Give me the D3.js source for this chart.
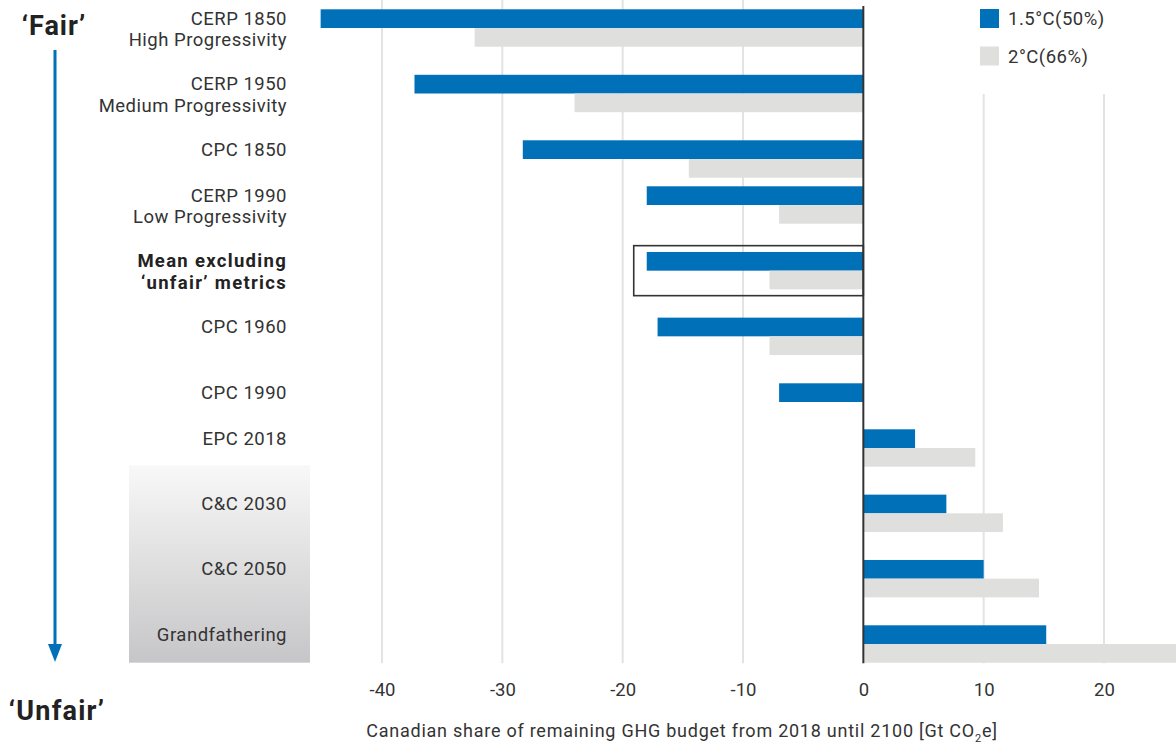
<!DOCTYPE html>
<html>
<head>
<meta charset="utf-8">
<script src="https://cdn.jsdelivr.net/npm/d3@7"></script>
<style>
  html, body { margin: 0; padding: 0; background: #fff; }
  svg { display: block; font-family: Roboto, "Noto Sans", sans-serif; }
</style>
</head>
<body>
<svg id="chart" width="1176" height="744"></svg>
<script>
// ---------- data ----------
const categories = [
  ["CERP 1850", "High Progressivity"],
  ["CERP 1950", "Medium Progressivity"],
  ["CPC 1850"],
  ["CERP 1990", "Low Progressivity"],
  ["Mean excluding", "\u2018unfair\u2019 metrics"],
  ["CPC 1960"],
  ["CPC 1990"],
  ["EPC 2018"],
  ["C&C 2030"],
  ["C&C 2050"],
  ["Grandfathering"]
];
const values15 = [-45.1, -37.3, -28.3, -18.0, -18.0, -17.1, -7.0, 4.3, 6.9, 10.0, 15.2];
const values2  = [-32.3, -24.0, -14.5, -7.0, -7.8, -7.8, 0, 9.3, 11.6, 14.6, 27.0];
const seriesNames = ["1.5\u00B0C(50%)", "2\u00B0C(66%)"];
const tickValues = [-40, -30, -20, -10, 0, 10, 20];
const meanIndex = 4;
const unfairStart = 8; // first 'unfair' (shaded) category

// ---------- styles ----------
const BLUE = "#0070b8", GREY = "#dfdfde", TEXT = "#333333";

const svg = d3.select("#chart");

const x = d3.scaleLinear().domain([-40, 20]).range([382, 1104]);
// row positions (boundary between the two bars of each category)
const y = d3.scaleLinear().domain([0, 2, 3, 6, 7, 10]).range([28, 159, 205, 402, 448, 644]);
const barH = 18.7;

// gradient defs
const defs = svg.append("defs");
const grad = defs.append("linearGradient").attr("id", "unfairGrad")
  .attr("x1", 0).attr("y1", 0).attr("x2", 0).attr("y2", 1);
grad.append("stop").attr("offset", "0%").attr("stop-color", "#f8f8f8");
grad.append("stop").attr("offset", "100%").attr("stop-color", "#c6c6c8");

// shaded box behind 'unfair' labels
svg.append("rect")
  .attr("x", 129).attr("width", 181)
  .attr("y", y(unfairStart) - 48)
  .attr("height", y(categories.length - 1) + barH - (y(unfairStart) - 48))
  .attr("fill", "url(#unfairGrad)");

// grid
const gridTop = 0, gridBottom = y(categories.length - 1) + barH + 0.5;
svg.append("g").selectAll("line").data(tickValues.filter(d => d !== 0)).join("line")
  .attr("x1", d => x(d)).attr("x2", d => x(d))
  .attr("y1", gridTop).attr("y2", gridBottom)
  .attr("stroke", "#e3e3e3").attr("stroke-width", 2);

// bars
const rows = categories.map((c, i) => ({ c, i, v1: values15[i], v2: values2[i] }));
svg.append("g").selectAll("rect").data(rows).join("rect")
  .attr("x", d => x(Math.min(0, d.v1)))
  .attr("width", d => Math.abs(x(d.v1) - x(0)))
  .attr("y", d => y(d.i) - barH)
  .attr("height", barH)
  .attr("fill", BLUE);
svg.append("g").selectAll("rect").data(rows).join("rect")
  .attr("x", d => x(Math.min(0, d.v2)))
  .attr("width", d => Math.abs(x(d.v2) - x(0)))
  .attr("y", d => y(d.i))
  .attr("height", barH)
  .attr("fill", GREY);

// zero line
svg.append("line")
  .attr("x1", x(0)).attr("x2", x(0))
  .attr("y1", 6).attr("y2", gridBottom)
  .attr("stroke", "#333").attr("stroke-width", 2);

// mean highlight box
const mx = x(Math.min(values15[meanIndex], values2[meanIndex])) - 13;
svg.append("rect")
  .attr("x", mx).attr("y", y(meanIndex) - barH - 6.3)
  .attr("width", x(0) - mx).attr("height", 2 * barH + 12.6)
  .attr("fill", "none").attr("stroke", "#333").attr("stroke-width", 1.6);

// category labels
const lab = svg.append("g").attr("text-anchor", "end").attr("fill", TEXT)
  .style("font-size", "18.5px");
rows.forEach(d => {
  const bold = d.i === meanIndex;
  const t = lab.append("text")
    .attr("x", 287)
    .attr("y", y(d.i) - barH / 2)
    .attr("dominant-baseline", "central")
    .style("font-weight", bold ? 700 : 400)
    .style("letter-spacing", bold ? "1.3px" : "0.5px")
    .attr("fill", bold ? "#222" : TEXT);
  d.c.forEach((line, k) => {
    t.append("tspan").attr("x", 287).attr("dy", k === 0 ? 0 : 21.5).text(line);
  });
});

// x axis tick labels
const axis = d3.axisBottom(x).tickValues(tickValues).tickSize(0).tickPadding(0)
  .tickFormat(d => String(d));
const ag = svg.append("g").attr("transform", "translate(0,683)").call(axis);
ag.select(".domain").remove();
ag.selectAll("text").attr("fill", TEXT).style("font-size", "18.5px")
  .style("font-family", "Roboto, sans-serif").attr("dy", "0.7em").attr("y", 0);

// axis title
const title = svg.append("text").attr("x", 682).attr("y", 737)
  .attr("text-anchor", "middle").attr("fill", TEXT).style("font-size", "18px")
  .style("letter-spacing", "0.75px");
title.append("tspan").text("Canadian share of remaining GHG budget from 2018 until 2100 [Gt CO");
title.append("tspan").attr("dy", 5).style("font-size", "11px").text("2");
title.append("tspan").attr("dy", -5).text("e]");

// legend
svg.append("rect").attr("x", 968).attr("y", 0).attr("width", 208).attr("height", 94).attr("fill", "#fff");
const leg = svg.append("g");
[BLUE, GREY].forEach((col, i) => {
  leg.append("rect").attr("x", 980).attr("y", 9 + i * 37.5).attr("width", 19).attr("height", 19).attr("fill", col);
  leg.append("text").attr("x", 1008).attr("y", 19 + i * 37.5)
    .attr("dominant-baseline", "central").attr("fill", TEXT).style("font-size", "18.5px")
    .style("letter-spacing", "0.5px")
    .text(seriesNames[i]);
});

// Fair -> Unfair arrow
svg.append("text").attr("x", 54).attr("y", 26).attr("text-anchor", "middle")
  .attr("dominant-baseline", "central").attr("fill", "#222")
  .style("font-size", "27px").style("font-weight", 700).style("letter-spacing", "1px")
  .text("\u2018Fair\u2019");
svg.append("line").attr("x1", 55).attr("x2", 55).attr("y1", 50).attr("y2", 646)
  .attr("stroke", BLUE).attr("stroke-width", 3);
svg.append("path").attr("d", d3.line()([[48, 644], [62, 644], [55, 662]]) + "Z").attr("fill", BLUE);
svg.append("text").attr("x", 57).attr("y", 711).attr("text-anchor", "middle")
  .attr("dominant-baseline", "central").attr("fill", "#222")
  .style("font-size", "27px").style("font-weight", 700).style("letter-spacing", "1.2px")
  .text("\u2018Unfair\u2019");
</script>
</body>
</html>
